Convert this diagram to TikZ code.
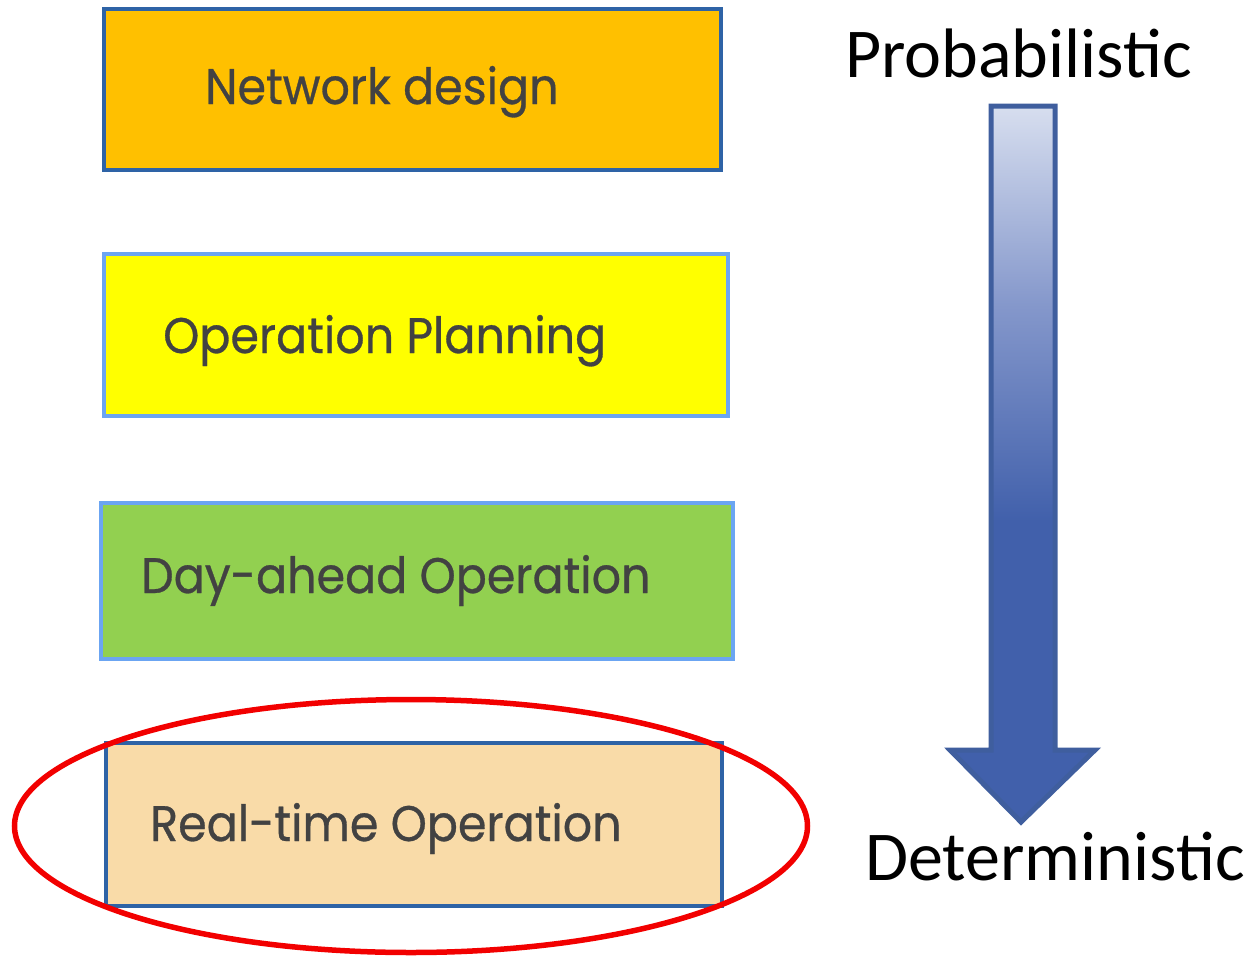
\documentclass[tikz,border=0pt]{standalone}
\usepackage{fontspec}
\usetikzlibrary{shapes.geometric}
\setmainfont{Carlito}
\newfontfamily\boxfont[FakeStretch=0.92,FakeBold=0.6]{Poppins}
\newfontfamily\sidefont{Carlito}
\definecolor{darkedge}{HTML}{2E63A6}
\definecolor{lightedge}{HTML}{6BA5F2}
\definecolor{orangefill}{HTML}{FFC000}
\definecolor{yellowfill}{HTML}{FFFF00}
\definecolor{greenfill}{HTML}{92D050}
\definecolor{peachfill}{HTML}{F9DBA8}
\definecolor{labelgrey}{HTML}{424242}
\definecolor{arrowedge}{HTML}{3F5E9E}
\definecolor{arrowlight}{HTML}{D7DEEF}
\definecolor{arrowmid}{HTML}{8497CB}
\definecolor{arrowdark}{HTML}{4160AB}
\definecolor{ringred}{HTML}{F20000}
% the filled path spans 25bp (bottom) to 75bp (top) of this shading
\pgfdeclareverticalshading{arrowfade}{100bp}{color(0bp)=(arrowdark); color(46bp)=(arrowdark); color(61bp)=(arrowmid); color(75bp)=(arrowlight); color(100bp)=(arrowlight)}
\begin{document}
\begin{tikzpicture}[x=1pt,y=-1pt,
  stage/.style={draw, line width=4.5pt, rectangle, inner sep=0pt},
  stagetext/.style={anchor=base west, inner sep=0pt, text=labelgrey,
    font=\boxfont\fontsize{50}{60}\selectfont},
  sidetext/.style={anchor=base west, inner sep=0pt, text=black,
    font=\sidefont\fontsize{70}{80}\selectfont}]
\useasboundingbox (0,0) rectangle (1254,956);

% planning horizon boxes
\node[stage, draw=darkedge, fill=orangefill, minimum width=617pt, minimum height=161pt]
  (design) at (412.5,89.5) {};
\node[stage, draw=lightedge, fill=yellowfill, minimum width=624pt, minimum height=162pt]
  (planning) at (416,335) {};
\node[stage, draw=lightedge, fill=greenfill, minimum width=632pt, minimum height=156pt]
  (dayahead) at (417,581) {};
\node[stage, draw=darkedge, fill=peachfill, minimum width=616pt, minimum height=163pt]
  (realtime) at (414,824.5) {};

\node[stagetext] (designlbl) at (205,104) {Network design};
\node[stagetext] (planninglbl) at (163,353) {Operation Planning};
\node[stagetext] (dayaheadlbl) at (141,593) {Day-ahead Operation};
\node[stagetext] (realtimelbl) at (150,841) {Real-time Operation};

% highlight ring round the real-time stage
\node[draw=ringred, line width=5.5pt, ellipse, minimum width=793pt, minimum height=253pt,
  inner sep=0pt] (ring) at (411,826) {};

% uncertainty arrow
\shade[shading=arrowfade, draw=arrowedge, line width=5pt, line join=miter]
  (991,106) -- (1055,106) -- (1055,750) -- (1095,750) -- (1021,822)
  -- (950,750) -- (991,750) -- cycle;

\node[sidetext] (prob) at (845,77) {Probabilistic};
\node[sidetext] (det) at (865,880) {Deterministic};
\end{tikzpicture}
\end{document}
